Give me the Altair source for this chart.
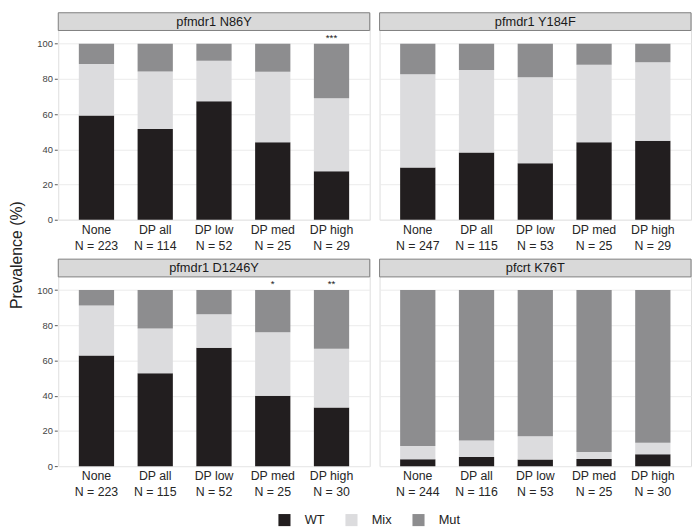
import altair as alt
import pandas as pd

panels = ["pfmdr1 N86Y", "pfmdr1 Y184F", "pfmdr1 D1246Y", "pfcrt K76T"]
groups = ["None", "DP all", "DP low", "DP med", "DP high"]
statuses = ["WT", "Mix", "Mut"]
colors = ["#221e1f", "#dcdcde", "#8d8d8f"]

n_values = [
    [223, 114, 52, 25, 29],
    [247, 115, 53, 25, 29],
    [223, 115, 52, 25, 30],
    [244, 116, 53, 25, 30],
]
wt = [
    [59.2, 51.6, 67.3, 44.0, 27.6],
    [29.6, 38.2, 32.1, 44.0, 44.8],
    [62.8, 52.8, 67.3, 40.0, 33.3],
    [3.9, 5.2, 3.8, 4.0, 6.7],
]
mix = [
    [29.3, 32.6, 23.0, 40.0, 41.4],
    [53.1, 46.9, 48.9, 44.0, 44.6],
    [28.4, 25.4, 19.0, 36.0, 33.4],
    [7.5, 9.3, 13.2, 4.0, 6.6],
]
stars = [
    ["", "", "", "", "***"],
    ["", "", "", "", ""],
    ["", "", "", "*", "**"],
    ["", "", "", "", ""],
]

rows = []
for pi, panel in enumerate(panels):
    for gi, g in enumerate(groups):
        xlab = f"{g}|N = {n_values[pi][gi]}"
        w = wt[pi][gi]
        m = mix[pi][gi]
        vals = [w, m, 100 - w - m]
        for si, s in enumerate(statuses):
            rows.append(dict(panel=panel, r=pi // 2, c=pi % 2, group=g, gidx=gi,
                             xlab=xlab, status=s, sidx=si, value=vals[si],
                             star=stars[pi][gi]))
df = pd.DataFrame(rows)

W = 316
H = 210
HDR = 18
FONT = "Liberation Sans"

xsort = alt.EncodingSortField("gidx", op="min")
xenc = alt.X("xlab:N", sort=xsort, title=None,
             scale=alt.Scale(paddingInner=0.4, paddingOuter=0.35),
             axis=alt.Axis(labelExpr="split(datum.label, '|')", labelAngle=0,
                           ticks=False, domain=False, labelFontSize=12.5,
                           labelColor="#262626", labelPadding=4, labelLineHeight=16))
yscale = alt.Scale(domain=[0, 107.5], range=[H, HDR], nice=False)

bars = alt.Chart().mark_bar().encode(
    x=xenc,
    y=alt.Y("value:Q", stack="zero", scale=yscale, title=None,
            axis=alt.Axis(values=[0, 20, 40, 60, 80, 100], grid=True,
                          gridColor="#ebebeb", domain=False, tickColor="#555555",
                          tickSize=3, labelFontSize=9.5, labelColor="#444444",
                          labelPadding=2)),
    color=alt.Color("status:N", sort=statuses,
                    scale=alt.Scale(domain=statuses, range=colors),
                    legend=alt.Legend(title=None, orient="none", direction="horizontal",
                                      legendX=223, legendY=H * 2 + 88,
                                      symbolType="square", symbolSize=150,
                                      symbolStrokeWidth=0, labelFontSize=13,
                                      labelColor="#222222", labelOffset=14,
                                      columnPadding=20)),
    order=alt.Order("sidx:Q", sort="ascending"),
)

star_layer = alt.Chart().mark_text(baseline="bottom", dy=-1, fontSize=10,
                                    color="#222222", font=FONT).encode(
    x=alt.X("xlab:N", sort=xsort),
    y=alt.datum(100),
    text="star:N",
).transform_filter("datum.star != '' && datum.status == 'WT'")

hdr_rect = alt.Chart().mark_rect(fill="#d9d9d9", stroke="#808080",
                                 strokeWidth=1).encode(
    x=alt.value(0), x2=alt.value(W), y=alt.value(0), y2=alt.value(HDR),
).transform_filter("datum.gidx == 0 && datum.status == 'WT'")

hdr_text = alt.Chart().mark_text(fontSize=13, color="#1a1a1a", baseline="middle",
                                 font=FONT).encode(
    x=alt.value(W / 2), y=alt.value(HDR / 2 + 0.5), text="panel:N",
).transform_filter("datum.gidx == 0 && datum.status == 'WT'")

chart = alt.layer(bars, star_layer, hdr_rect, hdr_text, data=df).properties(
    width=W, height=H
).facet(
    row=alt.Row("r:O", title="Prevalence (%)",
                header=alt.Header(labels=False, titleFontSize=16,
                                  titleFontWeight="normal", titleColor="#222222",
                                  titlePadding=2, titleFont=FONT)),
    column=alt.Column("c:O", title=None,
                      header=alt.Header(labels=False, labelPadding=0, titlePadding=0)),
    spacing={"row": 6, "column": 8},
).resolve_scale(x="independent").properties(padding=0).configure_view(
    stroke="#808080", strokeWidth=1
).configure(font=FONT)

chart.save("out.html", embed_options={"renderer": "svg", "actions": False})
